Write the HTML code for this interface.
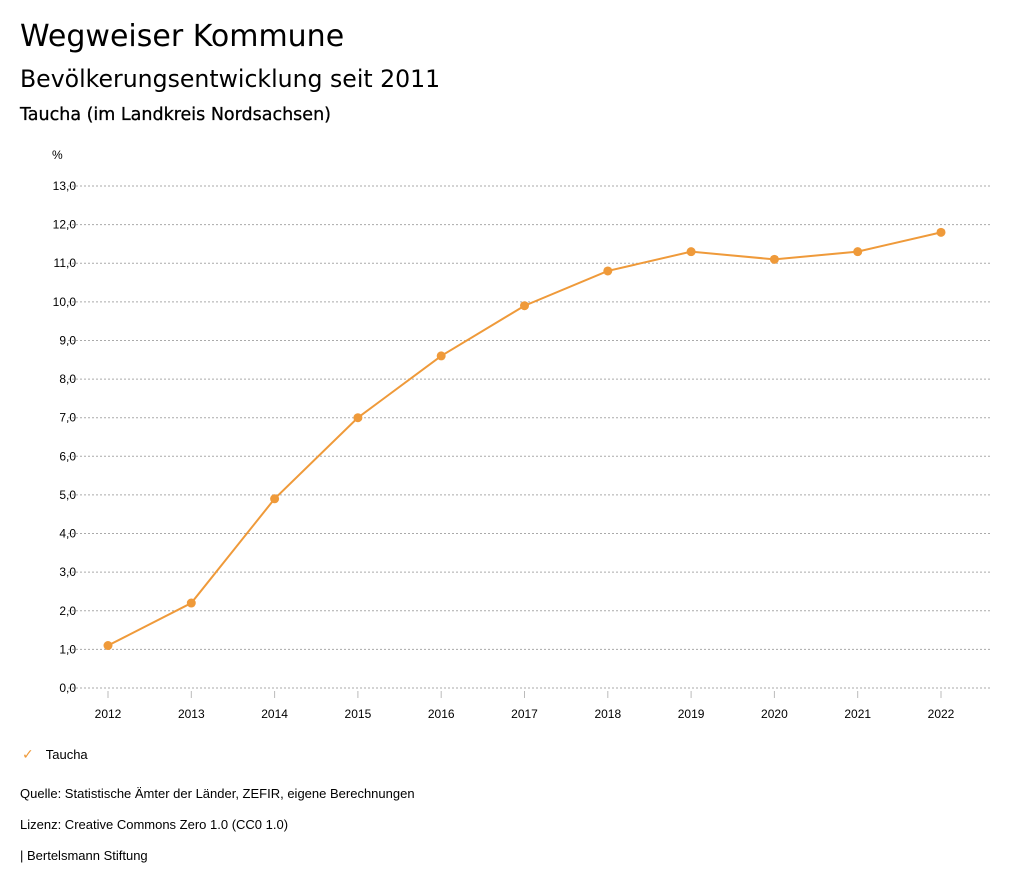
<!DOCTYPE html>
<html><head><meta charset="utf-8"><style>
body{margin:0;width:1024px;height:888px;background:#fff;font-family:"Liberation Sans","DejaVu Sans",sans-serif;color:#000;overflow:hidden;position:relative}
.t{position:absolute;left:20px;white-space:nowrap}
</style></head><body>
<div class="t" style="top:19px;font-size:30px;font-family:'DejaVu Sans',sans-serif">Wegweiser Kommune</div>
<div class="t" style="top:65px;font-size:23.6px;font-family:'DejaVu Sans',sans-serif">Bevölkerungsentwicklung seit 2011</div>
<div class="t" style="top:105px;font-size:17.5px;font-family:'DejaVu Sans',sans-serif;-webkit-text-stroke:0.3px #000">Taucha (im Landkreis Nordsachsen)</div>
<svg id="chart" width="1024" height="888" style="position:absolute;left:0;top:0"></svg>
<div class="t" style="top:746px;font-size:13px;left:22px"><span style="color:#ef9a3a;font-size:14px">✓</span><span style="margin-left:12px">Taucha</span></div>
<div class="t" style="top:786px;font-size:13px">Quelle: Statistische Ämter der Länder, ZEFIR, eigene Berechnungen</div>
<div class="t" style="top:817px;font-size:13px">Lizenz: Creative Commons Zero 1.0 (CC0 1.0)</div>
<div class="t" style="top:848px;font-size:13px">| Bertelsmann Stiftung</div>
<script>
const years=[2012,2013,2014,2015,2016,2017,2018,2019,2020,2021,2022];
const values=[1.1,2.2,4.9,7.0,8.6,9.9,10.8,11.3,11.1,11.3,11.8];
const yTicks=[0,1,2,3,4,5,6,7,8,9,10,11,12,13];
const NS="http://www.w3.org/2000/svg";
const svg=document.getElementById('chart');
const y=v=>688-v*(502/13);
const x=i=>108+i*83.3;
function mk(tag,attrs,parent){const e=document.createElementNS(NS,tag);for(const k in attrs)e.setAttribute(k,attrs[k]);(parent||svg).appendChild(e);return e;}
let u=mk('text',{x:52,y:159,'font-size':12,'font-family':'Liberation Sans, sans-serif'});u.textContent='%';


yTicks.forEach(t=>{
  const l=mk('line',{x1:68,x2:990,y1:y(t),y2:y(t),stroke:'#aaa','stroke-dasharray':'2,2','stroke-width':1});
  
  
  const tx=mk('text',{x:76,y:y(t)+4,'text-anchor':'end','font-size':12,'font-family':'Liberation Sans, sans-serif'});
  tx.textContent=t.toFixed(1).replace('.',',');
  
  
});
years.forEach((yr,i)=>{
  const l=mk('line',{x1:x(i),x2:x(i),y1:691,y2:698,stroke:'#bbb'});
  
  
  const tx=mk('text',{x:x(i),y:718,'text-anchor':'middle','font-size':12,'font-family':'Liberation Sans, sans-serif'});
  tx.textContent=yr;
  
  
});
const p=mk('polyline',{points:values.map((v,i)=>x(i)+','+y(v)).join(' '),fill:'none',stroke:'#ef9a3a','stroke-width':2});


values.forEach((v,i)=>{
  const c=mk('circle',{cx:x(i),cy:y(v),r:4.5,fill:'#ef9a3a'});
  
  
});
</script>
</body></html>
